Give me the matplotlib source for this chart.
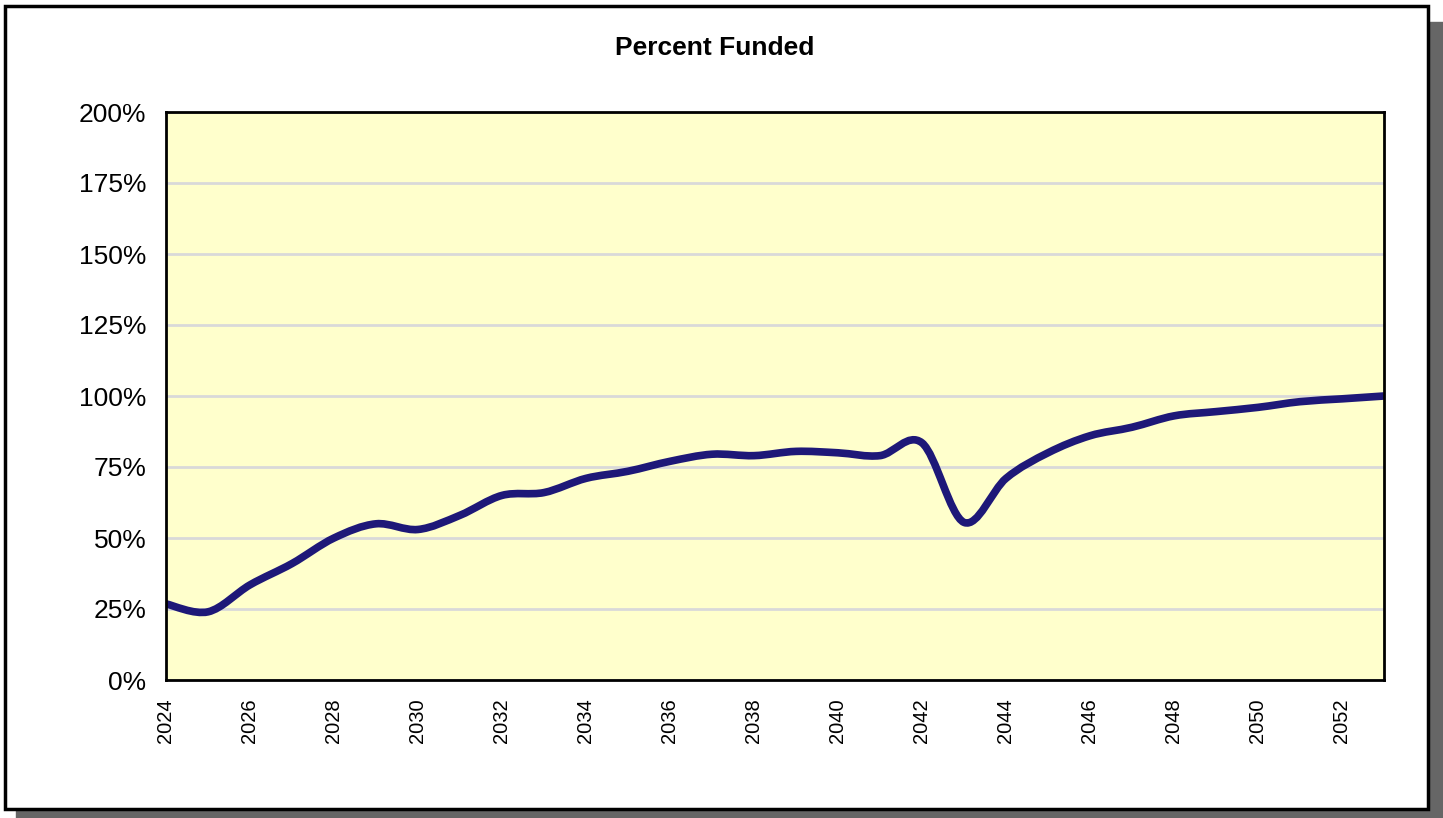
import numpy as np
import matplotlib
matplotlib.use("Agg")
import matplotlib.pyplot as plt
from matplotlib.path import Path
from matplotlib.patches import PathPatch, Rectangle

plt.rcParams['font.family'] = ['Liberation Sans', 'DejaVu Sans']

# data
years = list(range(2024, 2054))
funded = [26.8, 24.0, 33.5, 41.0, 50.0, 55.0, 53.0, 58.0, 65.0, 66.0,
          71.0, 73.5, 77.0, 79.5, 79.0, 80.5, 80.0, 79.0, 83.5, 55.5,
          71.0, 80.0, 86.0, 89.0, 93.0, 94.5, 96.0, 98.0, 99.0, 100.0]
yticks = [0, 25, 50, 75, 100, 125, 150, 175, 200]
xticks = list(range(2024, 2054, 2))

fig = plt.figure(figsize=(14.43, 8.18), dpi=100)

# outer frame with drop shadow
fig.patches.append(Rectangle((16 / 1443, 0), 1427 / 1443, 10 / 818,
                             transform=fig.transFigure, color='#666666', zorder=0))
fig.patches.append(Rectangle((1428 / 1443, 0), 15 / 1443, 796 / 818,
                             transform=fig.transFigure, color='#666666', zorder=0))
fig.patches.append(Rectangle((5 / 1443, 9 / 818), 1423 / 1443, 803 / 818,
                             transform=fig.transFigure, facecolor='white',
                             edgecolor='black', linewidth=2.5, zorder=1))

ax = fig.add_axes([166 / 1443, 138 / 818, 1218 / 1443, 568 / 818])
ax.set_facecolor('#FFFFCC')
ax.set_zorder(2)

# smoothed line (Catmull-Rom -> cubic Bezier), like an Excel smoothed series
x = np.array(years, dtype=float)
y = np.array(funded, dtype=float)
verts = [(x[0], y[0])]
codes = [Path.MOVETO]
n = len(x)
for i in range(n - 1):
    p0 = (x[max(i - 1, 0)], y[max(i - 1, 0)])
    p1 = (x[i], y[i])
    p2 = (x[i + 1], y[i + 1])
    p3 = (x[min(i + 2, n - 1)], y[min(i + 2, n - 1)])
    c1 = (p1[0] + (p2[0] - p0[0]) / 6, p1[1] + (p2[1] - p0[1]) / 6)
    c2 = (p2[0] - (p3[0] - p1[0]) / 6, p2[1] - (p3[1] - p1[1]) / 6)
    verts += [c1, c2, p2]
    codes += [Path.CURVE4] * 3
ax.add_patch(PathPatch(Path(verts, codes), facecolor='none', edgecolor='#1E1878',
                       linewidth=5.5, capstyle='butt', joinstyle='round',
                       zorder=3, clip_on=True))

ax.set_xlim(2024, 2053)
ax.set_ylim(0, 200)
ax.set_yticks(yticks)
ax.set_yticklabels([f"{v}%" for v in yticks], fontsize=19)
ax.set_xticks(xticks)
ax.set_xticklabels([str(v) for v in xticks], rotation=90, fontsize=14.5)
ax.tick_params(axis='y', length=0, pad=14)
ax.tick_params(axis='x', length=0, pad=13)
ax.grid(axis='y', color='#D9D9D9', linewidth=2)
ax.set_axisbelow(True)
for s in ax.spines.values():
    s.set_linewidth(2)
    s.set_color('black')
    s.set_zorder(4)

fig.text(715 / 1443, 1 - 48 / 818, "Percent Funded", ha='center', va='center',
         fontsize=19, fontweight='bold')

fig.savefig("out.png", dpi=100)
